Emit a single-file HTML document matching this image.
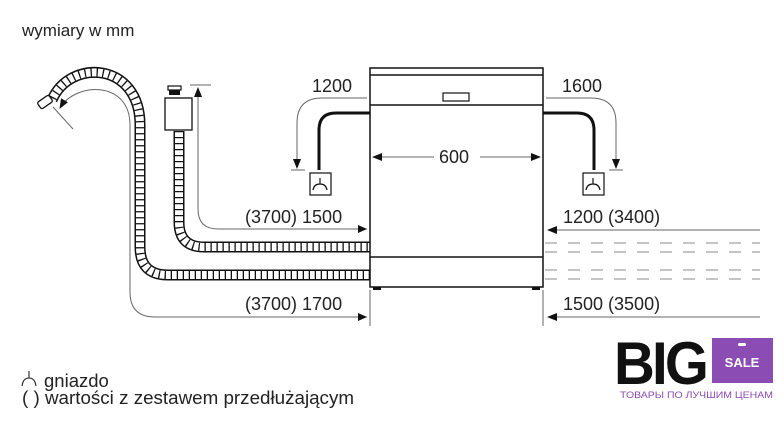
<!DOCTYPE html>
<html><head><meta charset="utf-8"><style>
html,body{margin:0;padding:0;background:#fff;}
svg{display:block;}
text{font-family:"Liberation Sans",sans-serif;fill:#222;}
</style></head><body>
<svg width="784" height="432" viewBox="0 0 784 432" xmlns="http://www.w3.org/2000/svg">
<defs>
<marker id="ar" markerWidth="10" markerHeight="8" refX="9" refY="4" orient="auto" markerUnits="userSpaceOnUse">
<path d="M0,0 L10,4 L0,8 Z" fill="#111"/></marker>
</defs>
<text x="22" y="36" font-size="17">wymiary w mm</text>

<!-- hoses -->
<g fill="none">
<path d="M179,131 L179,222 Q179,247 204,247 L370,247" stroke="#111" stroke-width="11"/>
<path d="M179,131 L179,222 Q179,247 204,247 L370,247" stroke="#fff" stroke-width="8"/>
<path d="M179,131 L179,222 Q179,247 204,247 L370,247" stroke="#111" stroke-width="8" stroke-dasharray="1.3 4.7"/>
<path d="M370,275 L168,275 Q140,275 140,247 L140,125 C140,62 70,58 52,100" stroke="#111" stroke-width="11"/>
<path d="M370,275 L168,275 Q140,275 140,247 L140,125 C140,62 70,58 52,100" stroke="#fff" stroke-width="8"/>
<path d="M370,275 L168,275 Q140,275 140,247 L140,125 C140,62 70,58 52,100" stroke="#111" stroke-width="8" stroke-dasharray="1.3 4.7"/>
</g>
<rect x="38" y="98" width="14" height="8" rx="2" fill="#fff" stroke="#111" stroke-width="1.3" transform="rotate(-35 45 102)"/>
<!-- drain device -->
<rect x="165" y="98" width="27" height="32" fill="#fff" stroke="#111" stroke-width="1.3"/>
<rect x="168" y="86" width="13" height="4" fill="#fff" stroke="#111" stroke-width="1.2"/>
<rect x="169" y="90" width="11" height="5" fill="#111"/>

<!-- thin dimension lines -->
<g fill="none" stroke="#666" stroke-width="1">
<path d="M367,317 L155,317 Q130,317 130,292 L130,125 C130,80 75,82 60,108" marker-end="url(#ar)"/>
<path d="M53,107 L73,129"/>
<path d="M367,229 L218,229 Q198,229 198,209 L198,88" marker-end="url(#ar)"/>
<path d="M190,85 L211,85"/>
<path d="M367,98 L322,98 Q297,98 297,123 L297,168" marker-end="url(#ar)"/>
<path d="M291,170 L305,170"/>
<path d="M546,98 L591,98 Q616,98 616,123 L616,168" marker-end="url(#ar)"/>
<path d="M609,170 L623,170"/>
<path d="M760,230 L548,230" marker-end="url(#ar)"/>
<path d="M760,317 L548,317" marker-end="url(#ar)"/>
<path d="M370,290 L370,326 M543,290 L543,326"/>
<path d="M545,243 L760,243 M545,252 L760,252 M545,270 L760,270 M545,279 L760,279" stroke="#888" stroke-dasharray="12 11"/>
</g>
<path d="M367,229 L358,225 L358,233 Z" fill="#111"/>
<path d="M367,317 L358,313 L358,321 Z" fill="#111"/>

<!-- water hoses -->
<g fill="none" stroke="#111" stroke-width="3">
<path d="M370,113 L336,113 Q319,113 319,130 L319,170"/>
<path d="M543,113 L577,113 Q594,113 594,130 L594,170"/>
</g>
<g fill="#fff" stroke="#111" stroke-width="1.2">
<rect x="310" y="173" width="21" height="22"/>
<rect x="583" y="173" width="21" height="22"/>
</g>
<g fill="none" stroke="#111" stroke-width="1.2">
<path d="M320,178 L320,184 M313,190 Q314,184 320,184 Q326,184 327,190"/>
<path d="M593,178 L593,184 M586,190 Q587,184 593,184 Q599,184 600,190"/>
</g>

<!-- dishwasher -->
<g fill="none" stroke="#111" stroke-width="1.5">
<rect x="370" y="68" width="173" height="219" fill="#fff"/>
<path d="M370,75 L543,75 M370,105 L543,105 M370,257 L543,257"/>
<rect x="443" y="93" width="26" height="8" stroke-width="1.2"/>
</g>
<rect x="373" y="287" width="8" height="3" fill="#111"/>
<rect x="532" y="287" width="8" height="3" fill="#111"/>
<g fill="none" stroke="#666" stroke-width="1">
<path d="M434,157 L373,157" marker-end="url(#ar)"/>
<path d="M480,157 L540,157" marker-end="url(#ar)"/>
</g>

<g font-size="18">
<text x="312" y="92">1200</text>
<text x="562" y="92">1600</text>
<text x="439" y="163">600</text>
<text x="245" y="223">(3700) 1500</text>
<text x="563" y="223">1200 (3400)</text>
<text x="245" y="310">(3700) 1700</text>
<text x="563" y="310">1500 (3500)</text>
</g>

<!-- legend -->
<g fill="none" stroke="#222" stroke-width="1.1">
<path d="M29,371 L29,378 M22,386 Q23,378 29,378 Q35,378 36,386"/>
</g>
<text x="44" y="387" font-size="18.5">gniazdo</text>
<text x="22" y="404" font-size="18.5" textLength="332" lengthAdjust="spacingAndGlyphs">( ) wartości z zestawem przedłużającym</text>

<!-- logo -->
<text x="614" y="384" font-size="60" font-weight="bold" style="fill:#111;letter-spacing:-3px" textLength="92" lengthAdjust="spacingAndGlyphs">BIG</text>
<rect x="712" y="338" width="61" height="45" fill="#8b4db3"/>
<rect x="738" y="343" width="8" height="3" rx="1.5" fill="#fff"/>
<text x="742" y="367" font-size="13" font-weight="bold" text-anchor="middle" style="fill:#fff">SALE</text>
<text x="620" y="398" font-size="9.5" style="fill:#8b4db3" textLength="153" lengthAdjust="spacingAndGlyphs">ТОВАРЫ ПО ЛУЧШИМ ЦЕНАМ</text>
</svg>
</body></html>
